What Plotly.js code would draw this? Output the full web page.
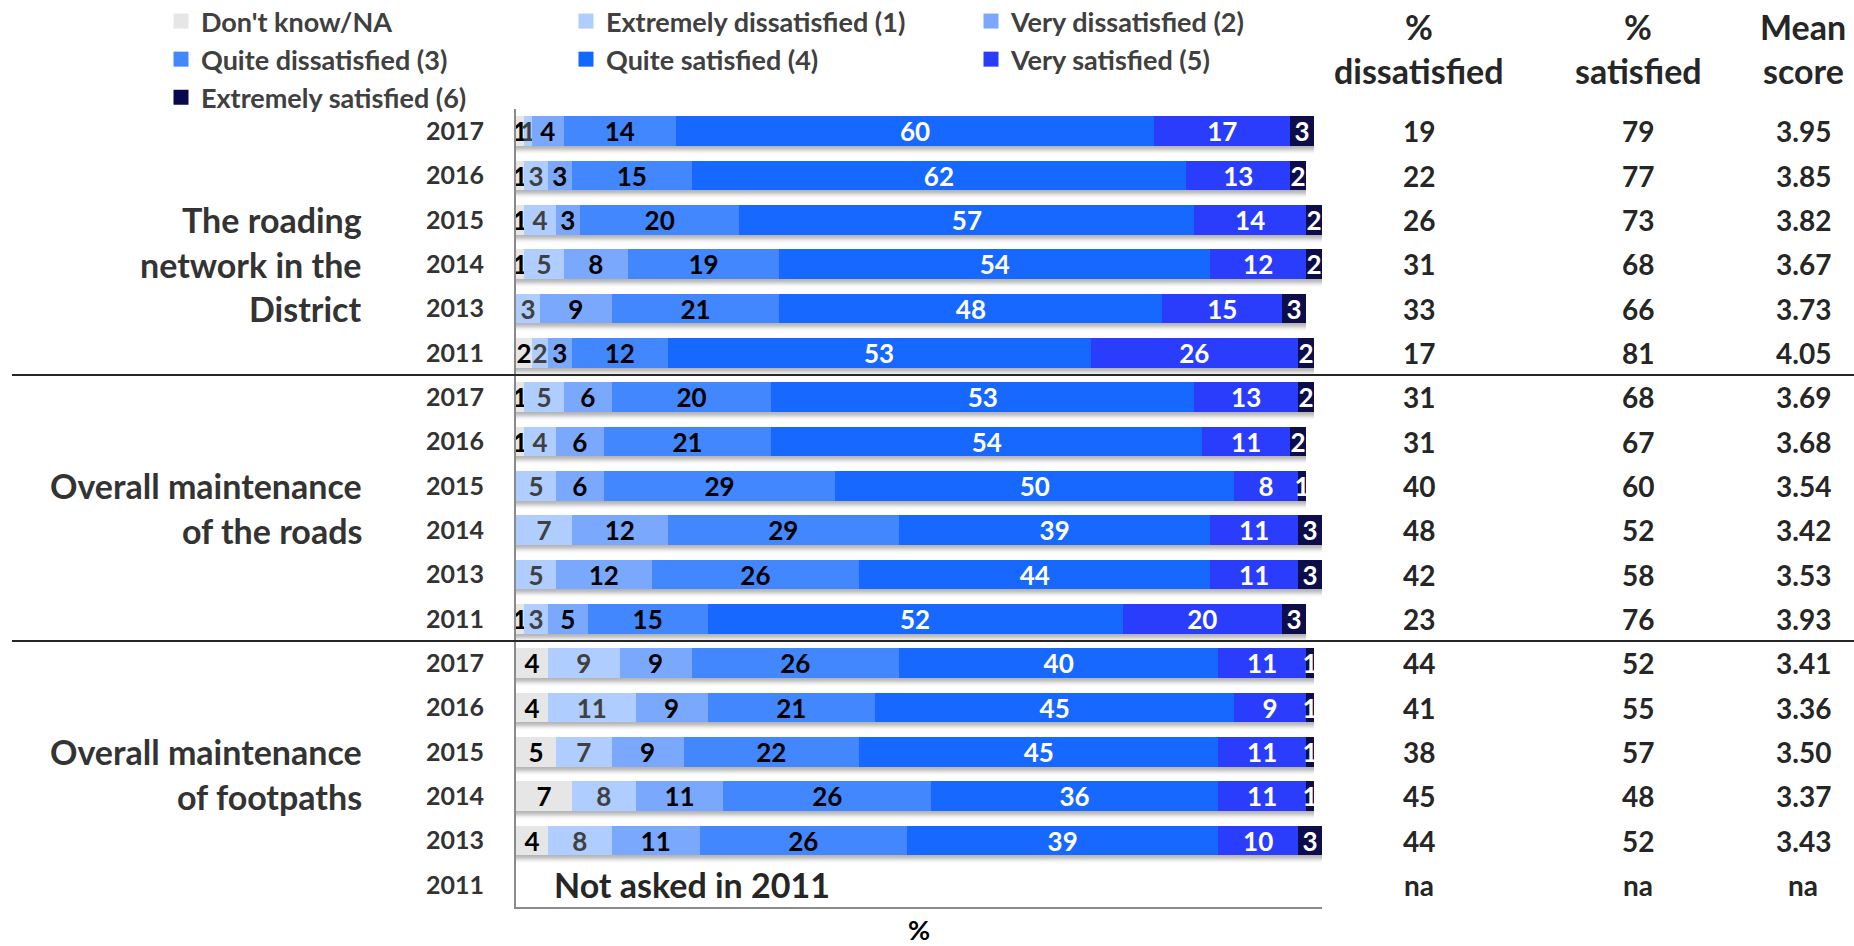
<!DOCTYPE html>
<html>
<head>
<meta charset="utf-8">
<script src="https://cdn.plot.ly/plotly-3.0.1.min.js"></script>
<style>
  html, body { margin: 0; padding: 0; background: #ffffff; }
  #chart { width: 1854px; height: 946px; }
</style>
</head>
<body>
<div id="chart"></div>
<script>
// Row labels (top to bottom) and the three question groups
const years = ['2017', '2016', '2015', '2014', '2013', '2011',
               '2017', '2016', '2015', '2014', '2013', '2011',
               '2017', '2016', '2015', '2014', '2013', '2011'];
const groupSizes = [6, 6, 6];
const groupLines = [
  ['The roading', 'network in the', 'District'],
  ['Overall maintenance', 'of the roads'],
  ['Overall maintenance', 'of footpaths']
];

// Satisfaction distribution (%), one value per row
const dontKnow    = [1, 1, 1, 1, null, 2,   1, 1, null, null, null, 1,   4, 4, 5, 7, 4, null];
const extDissat   = [1, 3, 4, 5, 3, 2,      5, 4, 5, 7, 5, 3,            9, 11, 7, 8, 8, null];
const veryDissat  = [4, 3, 3, 8, 9, 3,      6, 6, 6, 12, 12, 5,          9, 9, 9, 11, 11, null];
const quiteDissat = [14, 15, 20, 19, 21, 12, 20, 21, 29, 29, 26, 15,     26, 21, 22, 26, 26, null];
const quiteSat    = [60, 62, 57, 54, 48, 53, 53, 54, 50, 39, 44, 52,     40, 45, 45, 36, 39, null];
const verySat     = [17, 13, 14, 12, 15, 26, 13, 11, 8, 11, 11, 20,      11, 9, 11, 11, 10, null];
const extSat      = [3, 2, 2, 2, 3, 2,      2, 2, 1, 3, 3, 3,            1, 1, 1, 1, 3, null];

const seriesNames = ["Don't know/NA", 'Extremely dissatisfied (1)', 'Very dissatisfied (2)',
                     'Quite dissatisfied (3)', 'Quite satisfied (4)', 'Very satisfied (5)',
                     'Extremely satisfied (6)'];

// Summary columns on the right
const pctDissatisfied = ['19', '22', '26', '31', '33', '17', '31', '31', '40', '48', '42', '23',
                         '44', '41', '38', '45', '44', 'na'];
const pctSatisfied    = ['79', '77', '73', '68', '66', '81', '68', '67', '60', '52', '58', '76',
                         '52', '55', '57', '48', '52', 'na'];
const meanScore       = ['3.95', '3.85', '3.82', '3.67', '3.73', '4.05', '3.69', '3.68', '3.54',
                         '3.42', '3.53', '3.93', '3.41', '3.36', '3.50', '3.37', '3.43', 'na'];
const summaryHeaders  = [['%', 'dissatisfied'], ['%', 'satisfied'], ['Mean', 'score']];
const notAskedNote = 'Not asked in 2011';

// ---- styling ----
const FONT = 'Lato, "Open Sans", "Noto Sans", sans-serif';
const W = 1854, H = 946;
const X_MAX = 101;                       // a few rounded rows add up to 101
const PLOT_L = 516, PLOT_T = 109, PLOT_B = 907;
const PX_PER_PCT = 7.98;
const PLOT_R = PLOT_L + Math.round(X_MAX * PX_PER_PCT);
const seriesColors = ['#e6e6e6', '#afcdff', '#79a8fd', '#4387fd', '#1267ff', '#2a3dfd', '#08094c'];
const labelColors  = ['#000000', '#404040', '#000000', '#000000', '#ffffff', '#ffffff', '#ffffff'];
const summaryCenters = [1419, 1638, 1803];
const groupLabelRight = 364;
const dividerLeft = 12;

const seriesValues = [dontKnow, extDissat, veryDissat, quiteDissat, quiteSat, verySat, extSat];
const rowIdx = years.map((_, i) => i);

const traces = seriesValues.map((vals, s) => ({
  type: 'bar',
  orientation: 'h',
  name: seriesNames[s],
  x: vals,
  y: rowIdx,
  text: vals.map(v => (v ? String(v) : '')),
  textposition: 'inside',
  insidetextanchor: 'middle',
  textangle: 0,
  constraintext: 'none',
  cliponaxis: false,
  textfont: { family: FONT, size: 26, weight: 700, color: labelColors[s] },
  marker: { color: seriesColors[s], line: { width: 0 } },
  hoverinfo: 'skip'
}));

const plotW = PLOT_R - PLOT_L;
const annotations = [];

// group labels, one line per row slot, centred in the group
let start = 0;
groupSizes.forEach((size, g) => {
  const lines = groupLines[g];
  const first = start + Math.ceil((size - lines.length) / 2);
  lines.forEach((line, k) => {
    annotations.push({
      xref: 'paper', x: 0, xanchor: 'right', xshift: groupLabelRight - PLOT_L,
      yref: 'y', y: first + k, yanchor: 'middle',
      text: line, showarrow: false, align: 'right',
      font: { family: FONT, size: 34, weight: 700, color: '#333333' }
    });
  });
  start += size;
});

// summary columns
[pctDissatisfied, pctSatisfied, meanScore].forEach((col, c) => {
  col.forEach((t, i) => {
    annotations.push({
      xref: 'paper', x: 1, xanchor: 'center', xshift: summaryCenters[c] - PLOT_R,
      yref: 'y', y: i, yanchor: 'middle',
      text: t, showarrow: false,
      font: { family: FONT, size: 28, weight: 700, color: '#262626' }
    });
  });
  summaryHeaders[c].forEach((t, k) => {
    annotations.push({
      xref: 'paper', x: 1, xanchor: 'center', xshift: summaryCenters[c] - PLOT_R,
      yref: 'paper', y: 1, yanchor: 'middle', yshift: k === 0 ? 83 : 39,
      text: t, showarrow: false,
      font: { family: FONT, size: 34, weight: 700, color: '#262626' }
    });
  });
});

// note for the row that has no data
const emptyRow = rowIdx.find(i => seriesValues.every(v => v[i] == null));
annotations.push({
  xref: 'x', x: 4.5, xanchor: 'left',
  yref: 'y', y: emptyRow, yanchor: 'middle',
  text: notAskedNote, showarrow: false,
  font: { family: FONT, size: 34, weight: 700, color: '#262626' }
});

// horizontal rules between groups
const shapes = [];
let acc = 0;
groupSizes.slice(0, -1).forEach(size => {
  acc += size;
  shapes.push({
    type: 'line', xref: 'paper', yref: 'y',
    x0: (dividerLeft - PLOT_L) / plotW, x1: (W - PLOT_L) / plotW,
    y0: acc - 0.5, y1: acc - 0.5,
    line: { color: '#262626', width: 2 }
  });
});

const layout = {
  width: W, height: H,
  margin: { l: PLOT_L, r: W - PLOT_R, t: PLOT_T, b: H - PLOT_B, pad: 0, autoexpand: false },
  paper_bgcolor: '#ffffff', plot_bgcolor: '#ffffff',
  barmode: 'stack', bargap: 0.335,
  font: { family: FONT, weight: 700, color: '#333333' },
  showlegend: true,
  legend: {
    orientation: 'h', traceorder: 'normal',
    x: (161 - PLOT_L) / plotW, xanchor: 'left',
    y: 1 + (PLOT_T + 3) / (PLOT_B - PLOT_T), yanchor: 'top',
    entrywidth: 360,
    font: { family: FONT, size: 27, weight: 700, color: '#404040' },
    bgcolor: 'rgba(0,0,0,0)'
  },
  xaxis: {
    range: [0, X_MAX], showgrid: false, zeroline: false, showticklabels: false, ticks: '',
    showline: true, linecolor: '#8a8a8a', linewidth: 2, fixedrange: true,
    title: { text: '%', standoff: 22, font: { family: FONT, size: 27, weight: 700, color: '#000000' } }
  },
  yaxis: {
    range: [years.length - 0.5, -0.5],
    tickmode: 'array', tickvals: rowIdx, ticktext: years,
    tickfont: { family: FONT, size: 25, weight: 700, color: '#333333' },
    showgrid: false, zeroline: false, ticks: '', ticklabelstandoff: 25,
    showline: true, linecolor: '#8a8a8a', linewidth: 2, fixedrange: true
  },
  shapes: shapes,
  annotations: annotations
};

Plotly.newPlot('chart', traces, layout, { staticPlot: true, displayModeBar: false }).then(gd => {
  // soft shadow under each bar segment
  const ns = 'http://www.w3.org/2000/svg';
  const svg = gd.querySelector('svg.main-svg');
  let defs = svg.querySelector('defs');
  if (!defs) { defs = document.createElementNS(ns, 'defs'); svg.insertBefore(defs, svg.firstChild); }
  const filter = document.createElementNS(ns, 'filter');
  filter.setAttribute('id', 'barShadow');
  filter.setAttribute('x', '-0.05'); filter.setAttribute('y', '-0.2');
  filter.setAttribute('width', '1.1'); filter.setAttribute('height', '1.7');
  const drop = document.createElementNS(ns, 'feDropShadow');
  drop.setAttribute('dx', '0'); drop.setAttribute('dy', '4');
  drop.setAttribute('stdDeviation', '0 2');
  drop.setAttribute('flood-color', '#000000'); drop.setAttribute('flood-opacity', '0.3');
  filter.appendChild(drop);
  defs.appendChild(filter);
  gd.querySelectorAll('.barlayer .point path').forEach(p => p.setAttribute('filter', 'url(#barShadow)'));
  // slightly larger legend swatches
  gd.querySelectorAll('.legendpoints path').forEach(p => p.setAttribute('d', 'M7.5,7.5H-7.5V-7.5H7.5Z'));
});
</script>
</body>
</html>
